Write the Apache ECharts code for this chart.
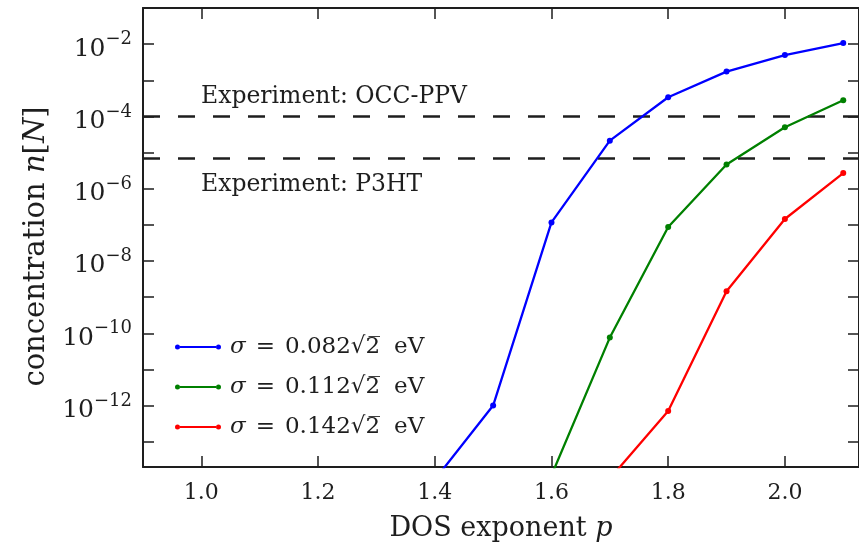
<!DOCTYPE html>
<html><head><meta charset="utf-8">
<script src="https://cdn.jsdelivr.net/npm/echarts@6/dist/echarts.min.js"></script>
<style>html,body{margin:0;padding:0;background:#fff}#c{width:859px;height:549px}</style>
</head><body><div id="c"></div>
<script>
// ---- data ----
const dosExponent = [1.4, 1.5, 1.6, 1.7, 1.8, 1.9, 2.0, 2.1];
const sigmaValues = ['0.082', '0.112', '0.142'];
const seriesNames = ['σ = 0.082√2 eV', 'σ = 0.112√2 eV', 'σ = 0.142√2 eV'];
const conc082 = [8.9e-15, 1.0e-12, 1.17e-7, 2.14e-5, 3.39e-4, 1.74e-3, 5.0e-3, 1.07e-2];
const conc112 = [null, null, 1.17e-14, 7.6e-11, 8.7e-8, 4.7e-6, 5.0e-5, 2.8e-4];
const conc142 = [null, null, null, 9.5e-15, 7.1e-13, 1.45e-9, 1.45e-7, 2.7e-6];
const experimentNames = ['Experiment: OCC-PPV', 'Experiment: P3HT'];
const experimentValues = [1e-4, 6.8e-6];
const xTicks = [1.0, 1.2, 1.4, 1.6, 1.8, 2.0];
const yTickExponents = [-13, -12, -11, -10, -9, -8, -7, -6, -5, -4, -3, -2];
const yLabelExponents = [-12, -10, -8, -6, -4, -2];

// ---- styling ----
const seriesColors = ['#0000ff', '#008000', '#ff0000'];
const FONT = 'DejaVu Serif';
const INK = '#1e1e1e';

const toPairs = arr => dosExponent.map((p, i) => arr[i] == null ? null : [p, Math.log10(arr[i])]).filter(d => d);
const allConc = [conc082, conc112, conc142];

const series = allConc.map((arr, k) => ({
  name: seriesNames[k],
  type: 'line',
  data: toPairs(arr),
  symbol: 'circle',
  symbolSize: 6,
  showSymbol: true,
  clip: true,
  color: seriesColors[k],
  lineStyle: { width: 2.3, color: seriesColors[k] },
  itemStyle: { color: seriesColors[k], borderWidth: 0 },
  z: 5
}));

series.push({
  name: 'experiments',
  type: 'line',
  data: [],
  silent: true,
  z: 3,
  markLine: {
    silent: true,
    symbol: ['none', 'none'],
    animation: false,
    lineStyle: { color: INK, width: 2.5, type: [17, 18] },
    data: experimentValues.map((v, i) => ({
      yAxis: Math.log10(v),
      label: {
        show: true,
        formatter: experimentNames[i],
        position: i === 0 ? 'insideStartTop' : 'insideStartBottom',
        distance: i === 0 ? [58, 8] : [58, 14],
        fontFamily: FONT, fontSize: 23.5, color: INK
      }
    }))
  }
});

const axisTickStyle = { inside: true, length: 11, lineStyle: { color: INK, width: 1.5 } };
const axisLineStyle = { show: true, onZero: false, lineStyle: { color: INK, width: 2 } };

const legendText = { fontFamily: FONT, fontSize: 23, color: INK, lineHeight: 30 };

const option = {
  animation: false,
  backgroundColor: '#ffffff',
  grid: { left: 143, right: -4, top: 8, bottom: 82, containLabel: false },
  xAxis: [{
    type: 'value', min: 0.9, max: 2.127, position: 'bottom',
    axisLine: axisLineStyle,
    axisTick: Object.assign({ customValues: xTicks }, axisTickStyle),
    axisLabel: { customValues: xTicks, formatter: v => v.toFixed(1), margin: 15, fontFamily: FONT, fontSize: 22, color: INK },
    splitLine: { show: false },
    name: '{r|DOS exponent }{i|p}', nameLocation: 'middle', nameGap: 48,
    nameTextStyle: { fontFamily: FONT, fontSize: 27, color: INK,
      rich: { r: { fontFamily: FONT, fontSize: 27, color: INK }, i: { fontFamily: FONT, fontSize: 27, fontStyle: 'italic', color: INK } } }
  }, {
    type: 'value', min: 0.9, max: 2.127, position: 'top',
    axisLine: axisLineStyle,
    axisTick: Object.assign({ customValues: xTicks }, axisTickStyle),
    axisLabel: { show: false }, splitLine: { show: false }
  }],
  yAxis: [{
    type: 'value', min: -13.7, max: -1, position: 'left',
    axisLine: axisLineStyle,
    axisTick: Object.assign({ customValues: yTickExponents }, axisTickStyle),
    axisLabel: {
      customValues: yLabelExponents, margin: 11,
      formatter: v => '{b|10}{s|−' + Math.abs(Math.round(v)) + '}',
      padding: [4, 0, 0, 0],
      rich: {
        b: { fontFamily: FONT, fontSize: 25, color: INK, verticalAlign: 'bottom' },
        s: { fontFamily: FONT, fontSize: 18, color: INK, verticalAlign: 'bottom', padding: [0, 0, 13, 0] }
      }
    },
    splitLine: { show: false },
    name: '{r|concentration }{i|n}{r|[}{i|N}{r|]}', nameLocation: 'middle', nameGap: 91, nameRotate: 90,
    nameTextStyle: { fontFamily: FONT, fontSize: 29, color: INK, padding: [0, 18, 0, 0],
      rich: { r: { fontFamily: FONT, fontSize: 29, color: INK }, i: { fontFamily: FONT, fontSize: 29, fontStyle: 'italic', color: INK } } }
  }, {
    type: 'value', min: -13.7, max: -1, position: 'right',
    axisLine: axisLineStyle,
    axisTick: Object.assign({ customValues: yTickExponents }, axisTickStyle),
    axisLabel: { show: false }, splitLine: { show: false }
  }],
  legend: {
    data: seriesNames.map((n, k) => ({ name: n, itemStyle: { color: seriesColors[k], borderWidth: 0, opacity: 1 } })),
    orient: 'vertical', left: 175, top: 332, padding: 0, itemGap: 10,
    itemWidth: 46, itemHeight: 5,
    icon: 'path://M0,2.5a2.5,2.5 0 1,0 5,0a2.5,2.5 0 1,0 -5,0zM41,2.5a2.5,2.5 0 1,0 5,0a2.5,2.5 0 1,0 -5,0zM5,1.5h36v2h-36z',
    itemStyle: { borderWidth: 0 },
    formatter: name => {
      const k = seriesNames.indexOf(name);
      return '{i|σ}{e|=}{r|' + sigmaValues[k] + '√2̅}{g|eV}';
    },
    textStyle: Object.assign({ padding: [0, 0, 0, 4],
      rich: {
        i: Object.assign({ fontStyle: 'italic' }, legendText),
        e: Object.assign({ padding: [0, 10, 0, 10] }, legendText),
        r: Object.assign({}, legendText),
        g: Object.assign({ padding: [0, 0, 0, 14] }, legendText)
      } }, legendText)
  },
  series: series
};

const chart = echarts.init(document.getElementById('c'), null, { renderer: 'canvas' });
chart.setOption(option);
</script>
</body></html>
